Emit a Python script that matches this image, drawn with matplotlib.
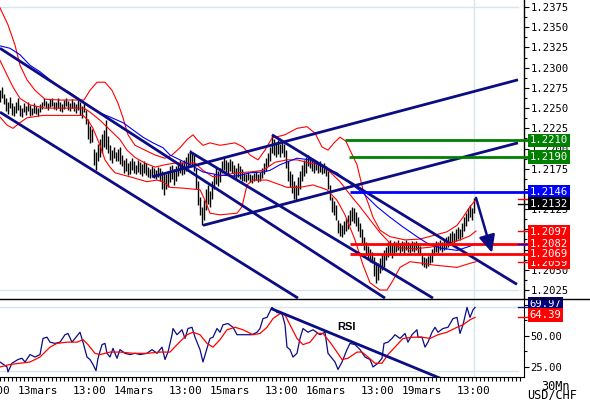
import numpy as np
import matplotlib
matplotlib.use("Agg")
import matplotlib.pyplot as plt
from matplotlib.lines import Line2D
from matplotlib.transforms import blended_transform_factory

plt.rcParams['font.family'] = ['DejaVu Sans Mono']

# prix en pips au-dessus de 1.2000, une barre = 30 minutes
hi_pips = [
    272, 276, 268, 262, 258, 264, 256, 252, 258, 262,
    254, 250, 256, 252, 258, 254, 250, 256, 253, 250,
    255, 258, 262, 259, 256, 261, 263, 258, 257, 262,
    258, 255, 260, 263, 259, 256, 261, 258, 255, 260,
    257, 252, 256, 248, 236, 228, 224, 200, 196, 205,
    212, 218, 223, 235, 215, 204, 198, 202, 196, 200,
    202, 192, 186, 188, 182, 185, 188, 184, 180, 186,
    183, 181, 185, 182, 177, 175, 178, 176, 174, 177,
    176, 172, 170, 168, 172, 178, 180, 175, 179, 182,
    186, 183, 186, 190, 194, 198, 196, 192, 176, 160,
    140, 128, 136, 150, 155, 148, 160, 168, 177, 172,
    176, 185, 189, 186, 183, 187, 184, 180, 176, 182,
    178, 175, 170, 168, 171, 169, 167, 170, 172, 169,
    171, 176, 182, 188, 195, 202, 217, 212, 208, 210,
    205, 211, 206, 198, 185, 172, 168, 160, 155, 165,
    172, 180, 186, 189, 192, 188, 186, 183, 185, 182,
    184, 180, 182, 178, 172, 155, 140, 135, 130, 112,
    108, 106, 110, 114, 118, 124, 128, 126, 122, 115,
    108, 100, 90, 84, 80, 76, 72, 66, 60, 58,
    64, 70, 74, 78, 84, 87, 82, 86, 85, 87,
    83, 86, 84, 87, 85, 82, 86, 84, 86, 83,
    80, 68, 66, 64, 67, 70, 76, 82, 86, 84,
    87, 85, 88, 90, 92, 95, 98, 96, 100, 103,
    101, 108, 115, 120, 126, 130, 127, 139,
]
lo_pips = [
    258, 262, 255, 246, 243, 250, 241, 240, 244, 248,
    240, 239, 245, 242, 246, 240, 241, 244, 243, 240,
    245, 249, 252, 250, 248, 251, 253, 249, 248, 250,
    247, 245, 249, 252, 248, 246, 250, 247, 244, 248,
    242, 238, 245, 230, 212, 207, 208, 180, 173, 185,
    190, 195, 202, 200, 195, 186, 182, 188, 184, 185,
    181, 178, 170, 172, 167, 169, 173, 170, 168, 171,
    168, 166, 170, 167, 165, 163, 166, 164, 162, 165,
    160, 150, 143, 150, 152, 158, 162, 155, 160, 166,
    170, 167, 169, 172, 176, 180, 178, 172, 150, 130,
    118, 106, 112, 124, 132, 128, 138, 150, 156, 154,
    158, 170, 173, 171, 169, 172, 170, 164, 161, 165,
    162, 160, 160, 158, 161, 159, 157, 160, 161, 158,
    160, 164, 168, 172, 178, 184, 195, 192, 190, 193,
    189, 195, 190, 176, 160, 152, 145, 138, 136, 142,
    150, 160, 166, 170, 178, 176, 172, 170, 173, 170,
    171, 169, 170, 166, 150, 136, 122, 118, 112, 96,
    92, 91, 94, 98, 100, 105, 110, 108, 104, 98,
    90, 83, 74, 68, 62, 60, 58, 42, 34, 38,
    46, 50, 54, 62, 66, 70, 65, 68, 72, 74,
    71, 73, 71, 74, 72, 71, 73, 72, 74, 71,
    70, 56, 53, 52, 55, 58, 60, 68, 72, 71,
    74, 72, 75, 76, 78, 81, 84, 83, 86, 88,
    87, 91, 98, 104, 110, 115, 112, 120,
]
last_close = 1.2132

# bandes de Bollinger (rouge) et moyenne mobile (bleu), lues tous les ~5 barres
bb_up_t = [0, 4, 7.5, 10, 13.5, 17.5, 22.5, 30, 42, 45, 48.5, 52.5, 56, 59, 61.5, 64, 67.5, 72.5,
           77.5, 82.5, 86, 90, 93.5, 96.5, 98.5, 101.5, 105, 110, 117.5, 121.5, 125, 129, 132.5,
           136, 142.5, 148.5, 153.5, 157.5, 161, 164, 167, 170, 173, 175, 178.5, 181.5, 184,
           186.5, 190, 195, 202.5, 210, 217.5, 223.5, 228.5, 231.5, 235, 238]
bb_up = [374, 353, 328, 303, 285, 272, 261, 260, 260, 272, 282, 282, 272, 256, 238, 217, 204, 198,
         192, 188, 192, 201, 211, 217, 211, 204, 207, 204, 207, 202, 192, 186, 198,
         213, 217, 225, 227, 219, 202, 198, 207, 214, 209, 198, 180, 149, 133,
         115, 99, 91, 87, 88, 93, 97, 105, 115, 128, 137]
bb_mid_t = [0, 3.5, 6.5, 10, 15, 22.5, 42, 45, 50, 55, 60, 63.5, 67.5, 72.5, 77.5, 82.5, 87.5,
            92.5, 97.5, 101.5, 106.5, 111.5, 118.5, 125, 131.5, 137.5, 143.5, 148.5, 155, 160,
            165, 170, 175, 180, 185, 190, 195, 200, 207.5, 215, 222.5, 230, 235, 238]
bb_mid = [309, 291, 276, 262, 254, 250, 250, 245, 235, 223, 211, 198, 189, 182, 177, 180, 182,
          182, 182, 173, 165, 167, 170, 171, 173, 183, 186, 186, 182, 180,
          171, 159, 143, 128, 112, 96, 83, 77, 76, 78, 81, 87, 92, 98]
bb_lo_t = [0, 3.5, 6.5, 10, 13.5, 21.5, 41.5, 44, 46.5, 50, 52.5, 55, 57.5, 65, 73.5, 78.5, 81.5,
           85, 91.5, 100, 102.5, 105, 110, 118.5, 121, 123.5, 126.5, 133.5, 143.5, 150, 156.5,
           163.5, 168.5, 172.5, 177.5, 181.5, 185, 190, 193.5, 196.5, 200, 205, 211.5, 216.5,
           228.5, 235, 238]
bb_lo = [239, 229, 225, 232, 238, 241, 241, 235, 225, 204, 186, 177, 170, 165, 159, 161, 159,
         152, 151, 149, 136, 120, 118, 120, 128, 155, 161, 161, 152, 152, 155,
         149, 136, 118, 87, 56, 34, 25, 25, 37, 53, 60, 58, 56,
         53, 58, 60]
ma_t = [0, 5, 10, 15, 20, 25, 30, 35, 40, 45, 50, 55, 61.5, 66.5, 71.5, 76.5, 81.5, 85, 90, 95,
        101.5, 110, 118.5, 125, 131.5, 135, 140, 148.5, 155, 161.5, 168.5, 175, 181.5, 188.5,
        195, 201.5, 208.5, 213.5, 220, 228.5, 233.5, 238]
ma = [327, 324, 316, 303, 295, 285, 276, 269, 260, 251, 244, 239, 232, 223, 214, 207, 201, 192,
      186, 180, 171, 167, 166, 170, 171, 173, 180, 188, 186, 177, 170, 157, 145, 128,
      115, 103, 91, 83, 77, 74, 78, 82]

# RSI et sa moyenne
rsi_t = [0, 3.5, 4, 6, 9, 11, 12.5, 15, 17.5, 20, 21.5, 23.5, 25, 27.5, 30, 32.5, 34, 36, 37.5,
         40, 41.5, 43.5, 45, 46.5, 48, 49, 51, 52.5, 53.5, 55, 56.5, 58.5, 60, 62.5, 65, 67.5,
         70, 73.5, 76, 78.5, 81, 82.5, 84, 86, 86.5, 88.5, 91, 92.5, 94, 96, 97.5, 100, 101.5,
         103.5, 105, 106.5, 108.5, 110, 111.5, 114, 116.5, 118.5, 121.5, 126, 128.5, 130, 131.5,
         133.5, 136, 138.5, 141, 142.5, 143.5, 145, 146.5, 148.5, 150, 151.5, 154, 156.5, 160,
         162.5, 164, 166, 167.5, 169, 171, 173.5, 175, 177.5, 180, 182.5, 185, 186.5, 189, 191,
         192, 194, 196, 197.5, 200, 202.5, 204, 206, 208.5, 209, 211, 212.5, 214, 216, 217.5,
         219, 221.5, 224, 226.5, 228.5, 230, 231.5, 233.5, 235, 236.5, 237.5]
rsi = [29, 25, 21, 28, 31, 32, 29, 35, 33, 35, 48, 49, 45, 44, 45, 51, 52, 45, 48,
       53, 45, 33, 31, 27, 22, 32, 43, 44, 36, 33, 40, 32, 39, 36, 35, 36,
       35, 36, 39, 36, 41, 31, 37, 51, 56, 51, 55, 48, 56, 57, 49, 39, 29,
       40, 48, 49, 56, 53, 59, 60, 57, 51, 51, 51, 53, 56, 64,
       65, 73, 69, 68, 59, 41, 39, 33, 36, 48, 56, 53, 55, 51,
       53, 36, 32, 29, 23, 29, 39, 44, 43, 39, 33, 31, 25, 28, 32, 44, 45,
       48, 51, 48, 52, 45, 51, 55, 49, 49, 41, 45, 53, 57,
       53, 56, 57, 64, 65, 52, 59, 73, 65, 71, 73]
rsi_ma_t = [0, 5, 10, 15, 20, 25, 28.5, 33.5, 38.5, 41.5, 44, 47.5, 50, 55, 60, 66.5, 73.5, 80,
            85, 88.5, 93.5, 96.5, 100, 103.5, 106.5, 110, 113.5, 117.5, 121.5, 126.5, 130,
            133.5, 136.5, 140, 142.5, 145, 148.5, 151.5, 155, 158.5, 161.5, 165, 168.5, 171,
            174, 178.5, 181, 184, 187.5, 191, 194, 197.5, 201.5, 206.5, 211, 215, 219, 223.5,
            228.5, 231.5, 235, 237.5]
rsi_ma = [25, 27, 28, 29, 33, 41, 44, 45, 45, 47, 43, 36, 35, 37, 37, 36, 36, 37,
          37, 43, 51, 53, 51, 44, 41, 47, 55, 57, 55, 51, 52,
          57, 64, 68, 67, 59, 48, 43, 45, 52, 52, 45, 37, 31,
          32, 37, 37, 33, 28, 28, 35, 41, 48, 49, 49, 48, 51, 53,
          57, 59, 63, 65]

# lignes de tendance : (barre debut, prix debut, barre fin, prix fin)
trend_lines = [
    (0, 1.2324, 192.5, 1.2015),
    (0, 1.2245, 149, 1.2015),
    (95, 1.2196, 216.5, 1.2015),
    (136, 1.2217, 258.5, 1.2032),
    (101.5, 1.2105, 259, 1.2207),
    (76, 1.2165, 259, 1.2285),
]
rsi_trend = (136, 71.8, 230, 9.3)
arrow_from = (238, 1.2139)
arrow_to = (246, 1.2071)

levels = [1.2210, 1.2190, 1.2146, 1.2082, 1.2069]
level_start = [172.5, 174.5, 175, 175, 175]
level_colors = ['#008000', '#008000', '#0000ff', '#ff0000', '#ff0000']

# etiquettes a droite
box_vals = [1.2210, 1.2190, 1.2146, 1.2132, 1.2097, 1.2082, 1.2059, 1.2069]
box_cols = ['#008000', '#008000', '#0000ff', '#000000', '#ff0000', '#ff0000', '#ff0000', '#ff0000']

x_ticks = [-3, 19, 45, 67, 93, 115, 141, 163, 189, 211, 237]
x_labels = ['13:00', '13mars', '13:00', '14mars', '13:00', '15mars', '13:00', '16mars',
            '13:00', '19mars', '13:00']

navy = '#0c0c84'
grid = '#d6e6ee'


def px(v):
    return 1.2 + np.asarray(v, dtype=float) / 10000.0


fig = plt.figure(figsize=(5.9, 4), dpi=100)
W, H = 590.0, 400.0
ax = fig.add_axes([0, 1 - 299 / H, 524 / W, 299 / H])
ax2 = fig.add_axes([0, 1 - 377 / H, 524 / W, 78 / H])
xmax_bars = 262

# ---------- panneau prix
ax.set_xlim(0, xmax_bars)
ax.set_ylim(1.20139, 1.23837)
ax.axhline(1.2375, xmax=518 / 524, color=grid, lw=1, zorder=0)
ax.axhline(1.2025, xmax=518 / 524, color=grid, lw=1, zorder=0)
ax.axvline(237, color=grid, lw=1, zorder=0)

bars = np.arange(len(hi_pips))
ax.vlines(bars, px(lo_pips), px(hi_pips), color='black', lw=1.0, zorder=2)

ax.plot(bb_up_t, px(bb_up), color='#ff0000', lw=0.8, zorder=3)
ax.plot(bb_mid_t, px(bb_mid), color='#ff0000', lw=0.8, zorder=3)
ax.plot(bb_lo_t, px(bb_lo), color='#ff0000', lw=0.8, zorder=3)
ax.plot(ma_t, px(ma), color='#0000ff', lw=0.8, zorder=3)

for t0, p0, t1, p1 in trend_lines:
    ax.plot([t0, t1], [p0, p1], color=navy, lw=2, zorder=4, solid_capstyle='butt')

for lv, st, c in zip(levels, level_start, level_colors):
    ax.plot([st, 264.5], [lv, lv], color=c, lw=2, zorder=5, clip_on=False,
            solid_capstyle='butt')

ax.annotate('', xy=arrow_to, xytext=arrow_from, zorder=6,
            arrowprops=dict(arrowstyle='-|>,head_length=0.75,head_width=0.35',
                            color=navy, lw=1.8, mutation_scale=14,
                            shrinkA=0, shrinkB=0))

# petites marques des dernieres valeurs
marks = [(px(bb_up[-1]), '#ff0000'), (last_close, '#000000'), (px(bb_mid[-1]), '#ff0000'),
         (px(ma[-1]), '#0000ff'), (px(bb_lo[-1]), '#ff0000')]
for v, c in marks:
    ax.plot([259, 264], [v, v], color=c, lw=1, clip_on=False, zorder=5)

ax.yaxis.tick_right()
ax.set_yticks(np.round(np.arange(1.2025, 1.23751, 0.0025), 4))
ax.set_yticks(np.round(np.arange(1.20375, 1.2375, 0.0025), 5), minor=True)
ax.set_yticklabels(['%.4f' % v for v in np.round(np.arange(1.2025, 1.23751, 0.0025), 4)])
ax.tick_params(axis='y', which='major', length=3.5, width=0.8, pad=1, labelsize=7.6)
ax.tick_params(axis='y', which='minor', length=2.5, width=0.8)
ax.set_xticks([])
for s in ['left', 'top', 'bottom']:
    ax.spines[s].set_visible(False)
ax.spines['right'].set_linewidth(1)

tr = blended_transform_factory(ax.transAxes, ax.transData)
for v, c in zip(box_vals, box_cols):
    ax.text(1.0105, v, '%.4f' % v, transform=tr, ha='left', va='center', color='white',
            fontsize=7.6, zorder=10, clip_on=False,
            bbox=dict(boxstyle='square,pad=0.18', fc=c, ec='none'))

# ---------- panneau RSI
ax2.set_xlim(0, xmax_bars)
ax2.set_ylim(16.9, 79.8)
ax2.axhline(73.4, xmax=518 / 524, color=grid, lw=1, zorder=0)
ax2.axhline(21.8, xmax=518 / 524, color=grid, lw=1, zorder=0)
ax2.axvline(237, color=grid, lw=1, zorder=0)
ax2.plot(rsi_t, rsi, color=navy, lw=0.9, zorder=3)
ax2.plot(rsi_ma_t, rsi_ma, color='#ff0000', lw=0.9, zorder=3)
ax2.plot([rsi_trend[0], rsi_trend[2]], [rsi_trend[1], rsi_trend[3]], color=navy, lw=2,
         zorder=4)
ax2.text(173.5, 57.5, 'RSI', fontsize=8, fontweight='bold', family='Liberation Sans',
         ha='center', va='center')

ax2.yaxis.tick_right()
ax2.set_yticks([25, 50, 75])
ax2.set_yticklabels(['25.00', '50.00', '75.00'])
ax2.set_yticks([37.5, 62.5], minor=True)
ax2.tick_params(axis='y', which='major', length=3.5, width=0.8, pad=1, labelsize=7.6)
ax2.tick_params(axis='y', which='minor', length=2.5, width=0.8)
ax2.set_xticks([])
ax2.set_xticks(np.arange(0, xmax_bars, 2), minor=True)
ax2.tick_params(axis='x', which='minor', length=2.8, width=0.8, direction='out')
for s in ['left', 'top']:
    ax2.spines[s].set_visible(False)

for v, c in [(rsi[-1], navy), (rsi_ma[-1], '#ff0000')]:
    ax2.plot([259, 264], [v, v], color=c, lw=1, clip_on=False, zorder=5)
tr2 = blended_transform_factory(ax2.transAxes, ax2.transData)
ax2.text(1.0105, 75.8, '69.97', transform=tr2, ha='left', va='center', color='white',
         fontsize=7.6, zorder=10, clip_on=False,
         bbox=dict(boxstyle='square,pad=0.18', fc='#000080', ec='none'))
ax2.text(1.0105, 66.8, '64.39', transform=tr2, ha='left', va='center', color='white',
         fontsize=7.6, zorder=11, clip_on=False,
         bbox=dict(boxstyle='square,pad=0.18', fc='#ff0000', ec='none'))

trx = blended_transform_factory(ax2.transData, ax2.transAxes)
for t, lab in zip(x_ticks, x_labels):
    ax2.text(t, -0.18, lab, transform=trx, ha='center', va='center', fontsize=8,
             clip_on=False)

fig.add_artist(Line2D([0, 1], [1 - 299 / H, 1 - 299 / H], color='black', lw=1))
fig.text(555 / W, 1 - 386 / H, '30Mn', ha='center', va='center', fontsize=8.6)
fig.text(552 / W, 1 - 395 / H, 'USD/CHF', ha='center', va='center', fontsize=8.6)

fig.savefig('out.png', dpi=100)
